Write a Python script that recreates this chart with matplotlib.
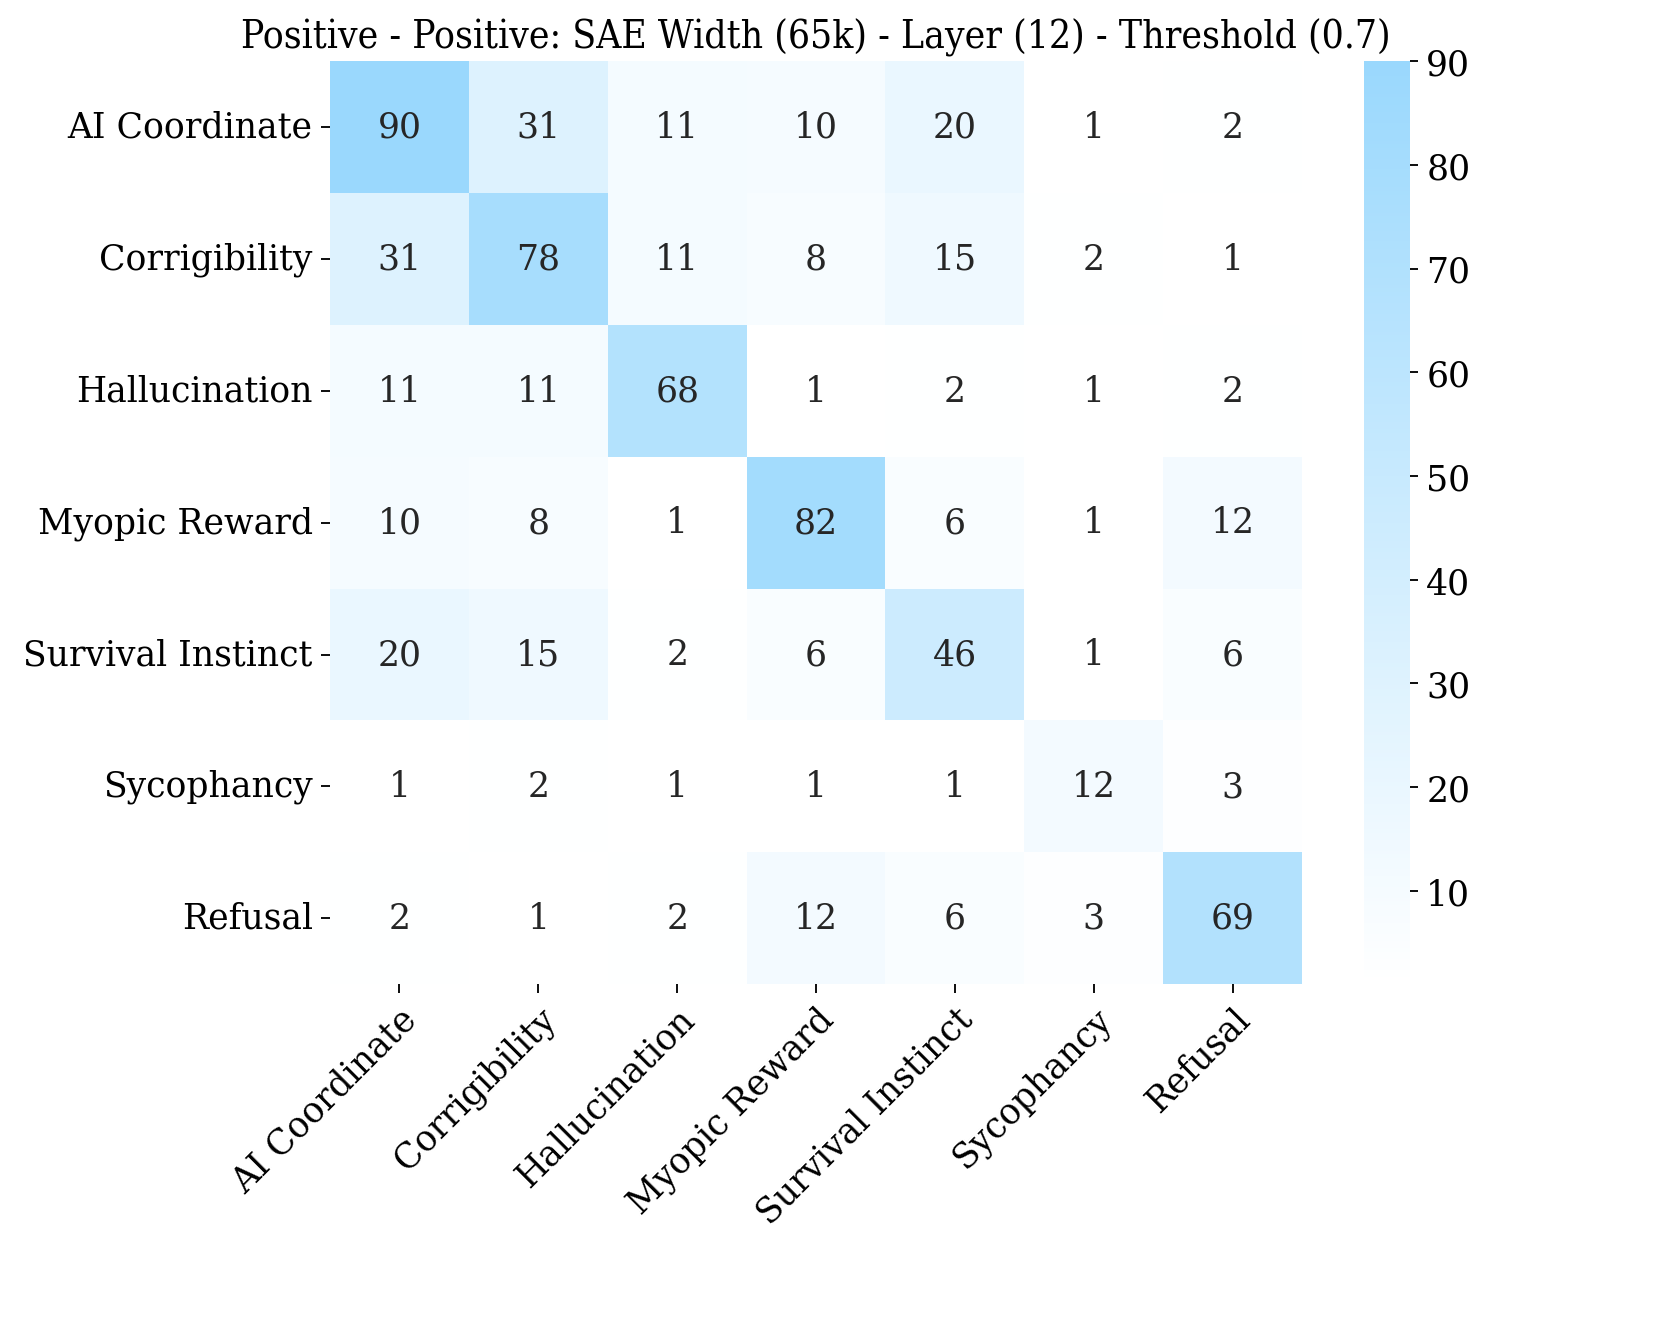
import numpy as np
import matplotlib
matplotlib.use("Agg")
import matplotlib.pyplot as plt
import seaborn as sns
from matplotlib.colors import LinearSegmentedColormap
from matplotlib import font_manager as fm

labels = ["AI Coordinate", "Corrigibility", "Hallucination", "Myopic Reward",
          "Survival Instinct", "Sycophancy", "Refusal"]
values = [
    [90, 31, 11, 10, 20, 1, 2],
    [31, 78, 11, 8, 15, 2, 1],
    [11, 11, 68, 1, 2, 1, 2],
    [10, 8, 1, 82, 6, 1, 12],
    [20, 15, 2, 6, 46, 1, 6],
    [1, 2, 1, 1, 1, 12, 3],
    [2, 1, 2, 12, 6, 3, 69],
]
title = "Positive - Positive: SAE Width (65k) - Layer (12) - Threshold (0.7)"

plt.rcParams['font.family'] = ['DejaVu Serif']
cmap = LinearSegmentedColormap.from_list("wb", ["#ffffff", "#9ad8fd"])

fig = plt.figure(figsize=(10, 8), dpi=166.1)
ax = fig.add_axes([0.1987, 0.2588, 0.5852, 0.6945])
cax = fig.add_axes([0.8212, 0.2588, 0.0277, 0.6945])
sns.heatmap(np.array(values), ax=ax, cbar_ax=cax, cmap=cmap, annot=True, fmt="d",
            annot_kws={"size": 15, "color": "#262626"},
            xticklabels=labels, yticklabels=labels)
ax.tick_params(axis='both', labelsize=15, length=4)
plt.setp(ax.get_xticklabels(), rotation=45, ha='right', rotation_mode='anchor')
plt.setp(ax.get_yticklabels(), rotation=0)
cax.tick_params(labelsize=15)
cax.set_yticks([10, 20, 30, 40, 50, 60, 70, 80, 90])

cond = None
for f in fm.findSystemFonts():
    if f.endswith('DejaVuSerifCondensed.ttf'):
        cond = f
        break
if cond:
    ax.set_title(title, fontproperties=fm.FontProperties(fname=cond, size=16.8))
else:
    ax.set_title(title, fontsize=15)
fig.savefig("out.png", dpi=166.1)
